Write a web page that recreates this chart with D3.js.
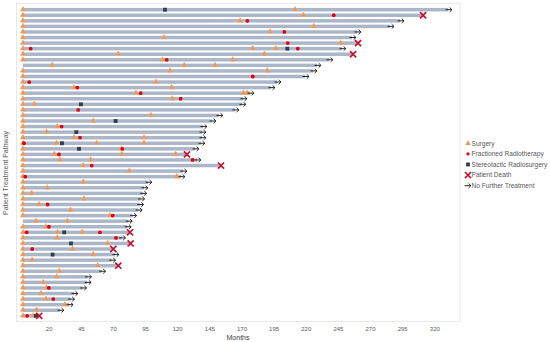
<!DOCTYPE html>
<html><head><meta charset="utf-8">
<script src="https://cdn.jsdelivr.net/npm/d3@7"></script>
<style>
html,body{margin:0;padding:0;background:#fff;}
svg{display:block;font-family:"Liberation Sans",Arial,sans-serif;}
</style></head>
<body><svg id="c" width="550" height="342"></svg>
<script>
// ---- data (months) ----
const patients = d3.range(1, 57).map(d => "P" + d);
const endMonths = [330.7,311.3,293.4,285.6,259.9,256,260.7,248.2,256.8,238.1,
  228.8,225.7,219.5,197.7,193,176.7,171.2,170.4,165,152.5,
  147.1,140.1,139.3,139.3,138.5,133.9,127.6,135.4,154.1,124.5,
  123,97.3,94.2,93.2,91.6,90.8,89.7,85.4,82,81.2,
  83.3,76.8,83.8,70.3,71.6,69,74.2,61.2,50.3,50,
  46.5,39.7,37.1,36,28.8,12.7];
const outcome = ["N","D","N","N","N","N","D","N","D","N",
  "N","N","N","N","N","N","N","N","N","N",
  "N","N","N","N","N","N","D","N","D","N",
  "N","N","N","N","N","N","N","N","N","N",
  "D","N","D","D","N","N","D","N","N","N",
  "N","N","N","N","N","D"];
const surgery = [[0,211.7],[0,218.1],[0,168.9],[0,226.2],[0,192.2],[0,109.7],[0,247.2],[0,178.8,196.7],[0,74.2,187.8],[0,108.4,163.2],
  [22.8,125.5,149.4],[0,114.4,190.1],[0],[0,103.5],[0,39.7,115.7],[0,87.9,171.5,174.5],[0,116.2],[0,8.8],[0],[0,99.6],
  [0,54.7],[0,26.7],[0,18.4],[0,39.7,94.2],[0,26.2,57.4,94.2],[0,76.7],[0,24.4,77,118.8],[0,28.8,52.7],[0,46.9],[0,82.7],
  [0,119.6],[0,46.9],[0,19],[0,6.8],[0,47.5],[0,12.6],[0,37.1],[0,67.7],[10.1,34.5],[0,17.9],
  [0,27,46.1],[0,26.7],[0,65.9],[0,38.7],[0,54.7],[0,7.2],[0,58.1],[0,28.3],[0,26.2],[0,15.8],
  [0,18.4],[0,14],[0,17.9],[0,32.7],[0,10.7],[0,8]];
const radiotherapy = [[],[241.8],[174.6],[],[203.3],[],[206],[6,213.8],[],[111.8],
  [],[],[178.8],[4.9],[42.3],[91.6],[122.7],[],[43],[],
  [],[30.1],[],[44.4],[0.8],[77.3],[28],[132],[53.5],[],
  [1.8],[],[],[],[],[19.2],[],[69.8],[],[20.2],
  [2.9,59.9],[72.4],[],[7.2],[],[],[],[],[],[],
  [20.2],[],[23.6],[],[],[3.3]];
const radiosurgery = [[110.5],[],[],[],[],[],[],[205.7],[],[],
  [],[],[],[],[],[],[],[45.1],[],[],
  [72.1],[],[41.5],[],[30.4],[43.6],[],[],[],[],
  [],[],[],[],[],[],[],[],[],[],
  [32.1],[],[37.4],[],[23.1],[],[],[],[],[],
  [],[],[],[],[],[10.1]];
const xTicks = [20,45,70,95,120,145,170,195,220,245,270,295,320];
const legendLabels = ["Surgery","Fractioned Radiotherapy","Stereotactic Radiosurgery","Patient Death","No Further Treatment"];

// ---- drawing ----
const svg = d3.select("#c");
const x = d3.scaleLinear().domain([-5, 340]).range([16.5, 460]);
const y = d3.scalePoint().domain(patients).range([9.7, 315.8]);
const plotTop = 3.3, plotBottom = 321.3;

const C = {bar:"#abb7c8", surg:"#ec9659", rad:"#e3000f", srs:"#323f4f", death:"#c8102e", arrow:"#111"};

svg.append("rect").attr("x", x(-5)).attr("y", plotTop)
  .attr("width", x(340) - x(-5)).attr("height", plotBottom - plotTop)
  .attr("fill", "none").attr("stroke", "#e2e2e2").attr("stroke-width", 0.8);

const rows = patients.map((p, i) => ({p, i, end: endMonths[i], out: outcome[i]}));

// bars
svg.append("g").selectAll("rect").data(rows).join("rect")
  .attr("x", x(0)).attr("y", d => y(d.p) - 1.75)
  .attr("width", d => x(d.end) - x(0)).attr("height", 3.5)
  .attr("fill", C.bar);

const tri = d3.symbol().type(d3.symbolTriangle).size(13);
const sq = d3.symbol().type(d3.symbolSquare).size(15);
const cross = d3.symbol().type(d3.symbolX).size(26);

function pts(arr) { const o = []; arr.forEach((ms, i) => ms.forEach(m => o.push({p: patients[i], m}))); return o; }

svg.append("g").selectAll("path").data(pts(surgery)).join("path")
  .attr("d", tri).attr("transform", d => `translate(${x(d.m)},${y(d.p) - 0.2})`)
  .attr("fill", C.surg).attr("stroke", "#f3b27f").attr("stroke-width", 0.4);

svg.append("g").selectAll("circle").data(pts(radiotherapy)).join("circle")
  .attr("cx", d => x(d.m)).attr("cy", d => y(d.p)).attr("r", 1.9).attr("fill", C.rad);

svg.append("g").selectAll("path").data(pts(radiosurgery)).join("path")
  .attr("d", sq).attr("transform", d => `translate(${x(d.m)},${y(d.p)})`).attr("fill", C.srs);

// end markers
const ends = svg.append("g");
ends.selectAll("path.death").data(rows.filter(d => d.out === "D")).join("path")
  .attr("class", "death").attr("d", cross)
  .attr("transform", d => `translate(${x(d.end)},${y(d.p)})`)
  .attr("fill", "none").attr("stroke", C.death).attr("stroke-width", 1.7);

function arrowPath(cx, cy) {
  return `M${cx - 3.5},${cy}L${cx + 2.8},${cy}M${cx + 0.6},${cy - 2.2}L${cx + 2.9},${cy}L${cx + 0.6},${cy + 2.2}`;
}
ends.selectAll("path.arr").data(rows.filter(d => d.out === "N")).join("path")
  .attr("class", "arr").attr("d", d => arrowPath(x(d.end) + 1, y(d.p)))
  .attr("fill", "none").attr("stroke", C.arrow).attr("stroke-width", 0.9);

// x axis
const ax = svg.append("g").attr("transform", `translate(0,${plotBottom})`)
  .call(d3.axisBottom(x).tickValues(xTicks).tickSize(0).tickPadding(5));
ax.select(".domain").remove();
ax.selectAll("text").attr("font-size", 6).attr("fill", "#595959")
  .attr("font-family", "Liberation Sans, Arial, sans-serif");

svg.append("text").attr("x", 238).attr("y", 340).attr("text-anchor", "middle")
  .attr("font-size", 7).attr("fill", "#404040").text("Months");

svg.append("text").attr("transform", "translate(7.5,173) rotate(-90)")
  .attr("text-anchor", "middle").attr("font-size", 7).attr("fill", "#595959")
  .text("Patient Treatment Pathway");

// legend
const lg = svg.append("g");
const ly = d3.scalePoint().domain(legendLabels).range([143.3, 185.7]);
const lx = 468;
lg.append("path").attr("d", tri).attr("transform", `translate(${lx},${ly(legendLabels[0])})`).attr("fill", C.surg);
lg.append("circle").attr("cx", lx).attr("cy", ly(legendLabels[1])).attr("r", 1.6).attr("fill", C.rad);
lg.append("path").attr("d", sq).attr("transform", `translate(${lx},${ly(legendLabels[2])})`).attr("fill", C.srs);
lg.append("path").attr("d", cross).attr("transform", `translate(${lx},${ly(legendLabels[3])})`)
  .attr("fill", "none").attr("stroke", C.death).attr("stroke-width", 1.6);
lg.append("path").attr("d", arrowPath(lx, ly(legendLabels[4]))).attr("fill", "none").attr("stroke", C.arrow).attr("stroke-width", 0.9);
lg.selectAll("text").data(legendLabels).join("text")
  .attr("x", lx + 3.5).attr("y", d => ly(d)).attr("dy", "0.35em")
  .attr("font-size", 6.6).attr("fill", "#595959").text(d => d);
</script></body></html>
